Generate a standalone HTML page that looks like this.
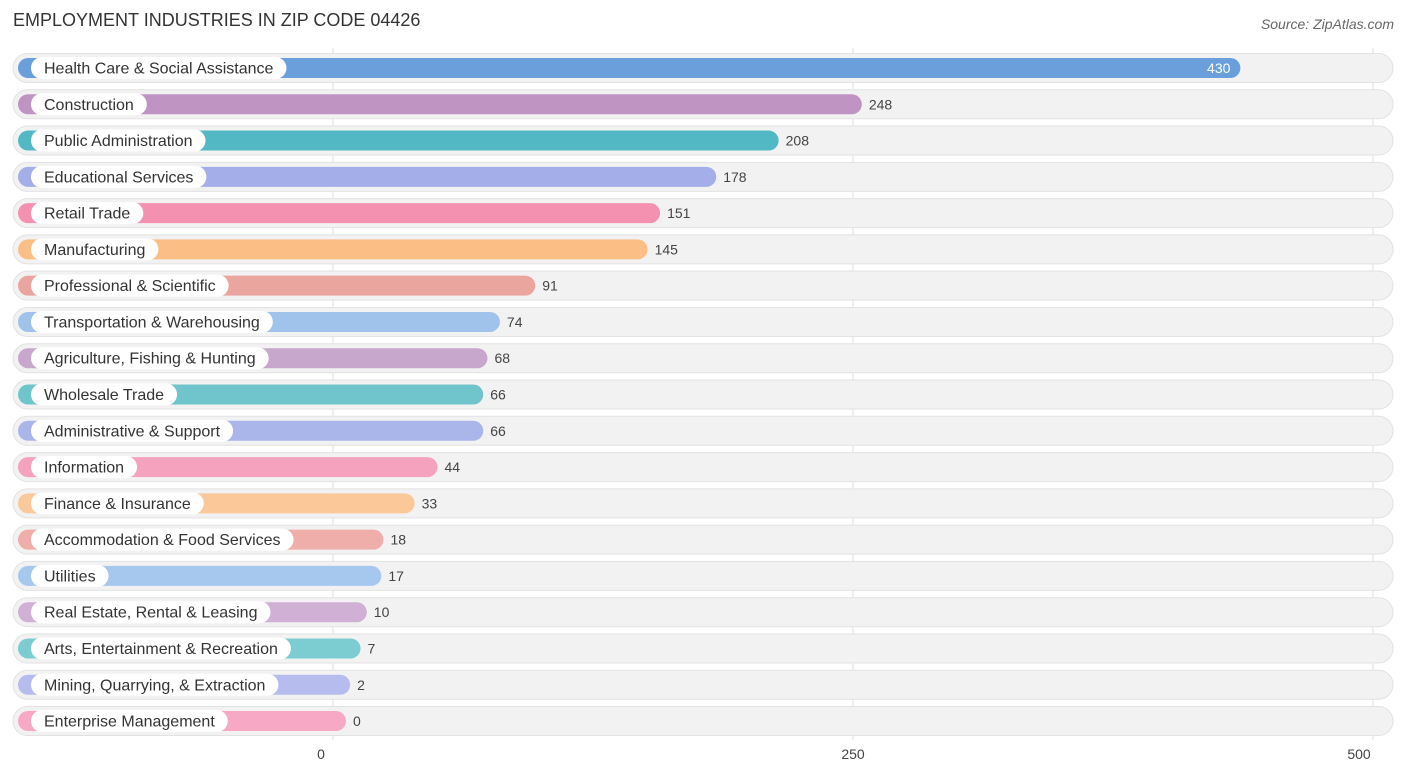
<!DOCTYPE html>
<html><head><meta charset="utf-8"><style>
body{margin:0;width:1406px;height:776px;background:#fff;font-family:"Liberation Sans",sans-serif;position:relative;overflow:hidden}
.t{position:absolute;left:13px;top:10px;font-size:18px;color:#333}
.s{position:absolute;right:12px;top:16px;font-size:14px;color:#666;font-style:italic}
</style></head><body>
<div class="t">EMPLOYMENT INDUSTRIES IN ZIP CODE 04426</div>
<div class="s">Source: ZipAtlas.com</div>
<svg id="c" width="1406" height="776" style="position:absolute;left:0;top:0"></svg>
<script>
const categories=["Health Care & Social Assistance","Construction","Public Administration","Educational Services","Retail Trade","Manufacturing","Professional & Scientific","Transportation & Warehousing","Agriculture, Fishing & Hunting","Wholesale Trade","Administrative & Support","Information","Finance & Insurance","Accommodation & Food Services","Utilities","Real Estate, Rental & Leasing","Arts, Entertainment & Recreation","Mining, Quarrying, & Extraction","Enterprise Management"];
const values=[430,248,208,178,151,145,91,74,68,66,66,44,33,18,17,10,7,2,0];
const tickValues=[0,250,500];
const colors=["#6a9fdc","#bf94c2","#52b9c4","#a4aee8","#f591b0","#fbbf86","#eba59f","#9fc3ea","#c8a7cc","#6fc5cb","#aab5ea","#f5a2be","#fbc89a","#f0aeaa","#a6c7ee","#d0b0d4","#7ccdd1","#b6bdee","#f7a8c4"];
const NS="http://www.w3.org/2000/svg",svg=document.getElementById('c');
const x0=333,scale=520/250,pad=13;
const xv=v=>x0+v*scale;
const yc=i=>68+i*36.28;
function mk(t,a,p){const e=document.createElementNS(NS,t);for(const k in a)e.setAttribute(k,a[k]);(p||svg).appendChild(e);return e;}
tickValues.forEach(t=>{
 const l=mk('line',{x1:xv(t),x2:xv(t),y1:48,y2:740,stroke:'#ddd','stroke-width':1});
 
 
 const tx=mk('text',{x:xv(t)+(t===500?-14:t===0?-12:0),y:759,'font-size':14,fill:'#444','text-anchor':'middle'});
 tx.textContent=t;
 
 
});
categories.forEach((c,i)=>{
 const y=yc(i);
 const g=mk('g',{});
 
 
 mk('rect',{x:13,y:y-14.5,width:1380,height:29,rx:14.5,fill:'#f2f2f2',stroke:'#e2e2e2','stroke-width':1},g);
 const end=xv(values[i])+pad;
 const b=mk('rect',{x:18,y:y-10,width:end-18,height:20,rx:10,fill:colors[i]},g);
 
 
 const lt=mk('text',{x:44,y:y+5.5,'font-size':16,fill:'#333'},g);
 lt.textContent=c;
 const w=lt.getComputedTextLength();
 const p=mk('rect',{x:31,y:y-11,width:w+26,height:22,rx:11,fill:'#fff'},g);
 g.insertBefore(p,lt);
 
 
 const inside=i===0;
 const vt=mk('text',{x:inside?end-10:end+7,y:y+5,'font-size':14,fill:inside?'#fff':'#444','text-anchor':inside?'end':'start'},g);
 vt.textContent=values[i];
 
 
});
</script>
</body></html>
